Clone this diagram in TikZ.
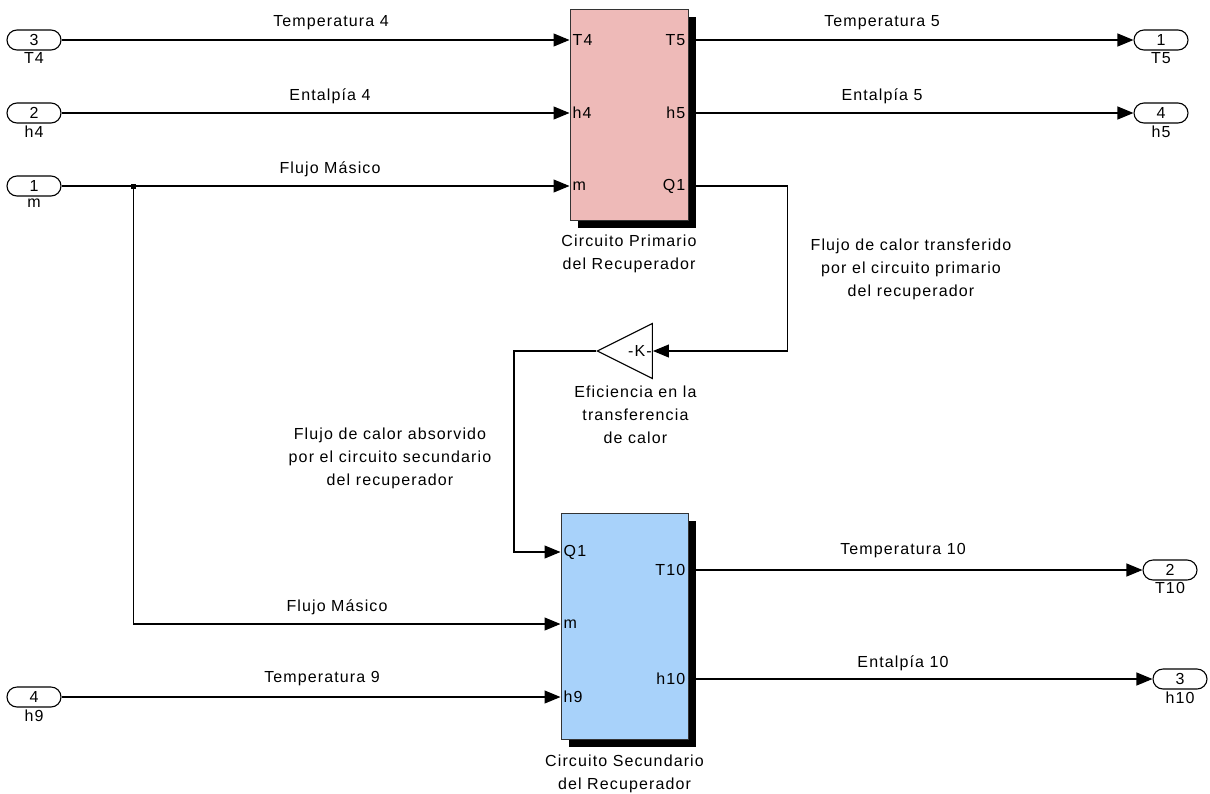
\documentclass[tikz,border=0pt]{standalone}
\usepackage{fontspec}
\setmainfont{Liberation Sans}[LetterSpace=7]
\usetikzlibrary{positioning, calc, arrows.meta, shadows, shapes.geometric}

\definecolor{primfill}{RGB}{238,186,184}
\definecolor{secfill}{RGB}{168,210,250}

\tikzset{
  wire/.style={line width=1.1pt},
  sig/.style={wire, -{Triangle[length=16pt,width=13pt]}},
  port/.style={draw, line width=1.1pt, rounded corners=10pt, minimum width=54pt, minimum height=20pt, inner sep=0pt},
  portname/.style={inner sep=1pt},
  blk/.style={draw=black!80, line width=1pt, inner sep=0pt, drop shadow={fill=black, opacity=1, shadow xshift=8pt, shadow yshift=-8pt}},
  gain/.style={draw, line width=1.1pt, fill=white, isosceles triangle, shape border rotate=180, isosceles triangle stretches, minimum width=55pt, minimum height=55pt, inner sep=0pt},
  pin/.style={inner sep=3pt},
}

\begin{document}
\begin{tikzpicture}[x=1pt, y=-1pt, font=\fontsize{16}{23}\selectfont]
    \useasboundingbox (0,0) rectangle (1210,793);

    % Inports
    \node[port] (in3) at (34,40) {3};
    \node[portname, below=1pt of in3] {T4};
    \node[port] (in2) at (34,113) {2};
    \node[portname, below=1pt of in2] {h4};
    \node[port] (in1) at (34,186) {1};
    \node[portname, below=1pt of in1] {m};
    \node[port] (in4) at (34,697) {4};
    \node[portname, below=1pt of in4] {h9};

    % Outports
    \node[port] (out1) at (1161,40) {1};
    \node[portname, below=1pt of out1] {T5};
    \node[port] (out4) at (1161,113) {4};
    \node[portname, below=1pt of out4] {h5};
    \node[port] (out2) at (1170,570) {2};
    \node[portname, below=1pt of out2] {T10};
    \node[port] (out3) at (1180,679) {3};
    \node[portname, below=1pt of out3] {h10};

    % Circuito primario
    \node[blk, fill=primfill, minimum width=118pt, minimum height=211pt] (prim) at (629,114.5) {};
    \node[align=center, below=11pt of prim] {Circuito Primario\\del Recuperador};
    \coordinate (prim-T4) at (prim.west |- in3);
    \coordinate (prim-h4) at (prim.west |- in2);
    \coordinate (prim-m)  at (prim.west |- in1);
    \coordinate (prim-T5) at (prim.east |- in3);
    \coordinate (prim-h5) at (prim.east |- in2);
    \coordinate (prim-Q1) at (prim.east |- in1);
    \node[pin, anchor=west] at (prim-T4) {T4};
    \node[pin, anchor=west] at (prim-h4) {h4};
    \node[pin, anchor=west] at (prim-m)  {m};
    \node[pin, anchor=east] at (prim-T5) {T5};
    \node[pin, anchor=east] at (prim-h5) {h5};
    \node[pin, anchor=east] at (prim-Q1) {Q1};

    % Circuito secundario
    \node[blk, fill=secfill, minimum width=127pt, minimum height=226pt] (sec) at (624.5,626) {};
    \node[align=center, below=12pt of sec] {Circuito Secundario\\del Recuperador};
    \coordinate (sec-Q1)  at ($(sec.west)+(0,-74)$);
    \coordinate (sec-m)   at ($(sec.west)+(0,-2)$);
    \coordinate (sec-h9)  at (sec.west |- in4);
    \coordinate (sec-T10) at (sec.east |- out2);
    \coordinate (sec-h10) at (sec.east |- out3);
    \node[pin, anchor=west] at (sec-Q1)  {Q1};
    \node[pin, anchor=west] at (sec-m)   {m};
    \node[pin, anchor=west] at (sec-h9)  {h9};
    \node[pin, anchor=east] at (sec-T10) {T10};
    \node[pin, anchor=east] at (sec-h10) {h10};

    % Ganancia
    \node[gain, anchor=apex] (gain) at (596,351) {};
    \coordinate (gain-in) at ($(gain.left corner)!0.5!(gain.right corner)$);
    \node[inner sep=1pt, anchor=east] at (gain-in) {-K-};
    \node[align=center, below=12pt of gain] {Eficiencia en la\\transferencia\\de calor};

    % Senales de entrada
    \draw[sig] (in3) -- (prim-T4);
    \draw[sig] (in2) -- (prim-h4);
    \draw[sig] (in1) -- (prim-m);
    \coordinate (split) at ($(in1.east)+(72,0)$);
    \node[fill, minimum size=5pt, inner sep=0pt] at (split) {};
    \draw[sig] (split) |- (sec-m);
    \draw[sig] (in4) -- (sec-h9);

    % Senales de salida
    \draw[sig] (prim-T5) -- (out1);
    \draw[sig] (prim-h5) -- (out4);
    \draw[sig] (prim-Q1) -- ++(99,0) |- (gain-in);
    \draw[sig] (gain.apex) -- ++(-82,0) |- (sec-Q1);
    \draw[sig] (sec-T10) -- (out2);
    \draw[sig] (sec-h10) -- (out3);

    % Etiquetas
    \node at (331,23) {Temperatura 4};
    \node at (330,96) {Entalpía 4};
    \node at (330,169) {Flujo Másico};
    \node at (882,23) {Temperatura 5};
    \node at (882,96) {Entalpía 5};
    \node[align=center] at (911,269) {Flujo de calor transferido\\por el circuito primario\\del recuperador};
    \node[align=center] at (390,458) {Flujo de calor absorvido\\por el circuito secundario\\del recuperador};
    \node at (337,607) {Flujo Másico};
    \node at (322,679) {Temperatura 9};
    \node at (903,551) {Temperatura 10};
    \node at (903,663) {Entalpía 10};

\end{tikzpicture}
\end{document}
